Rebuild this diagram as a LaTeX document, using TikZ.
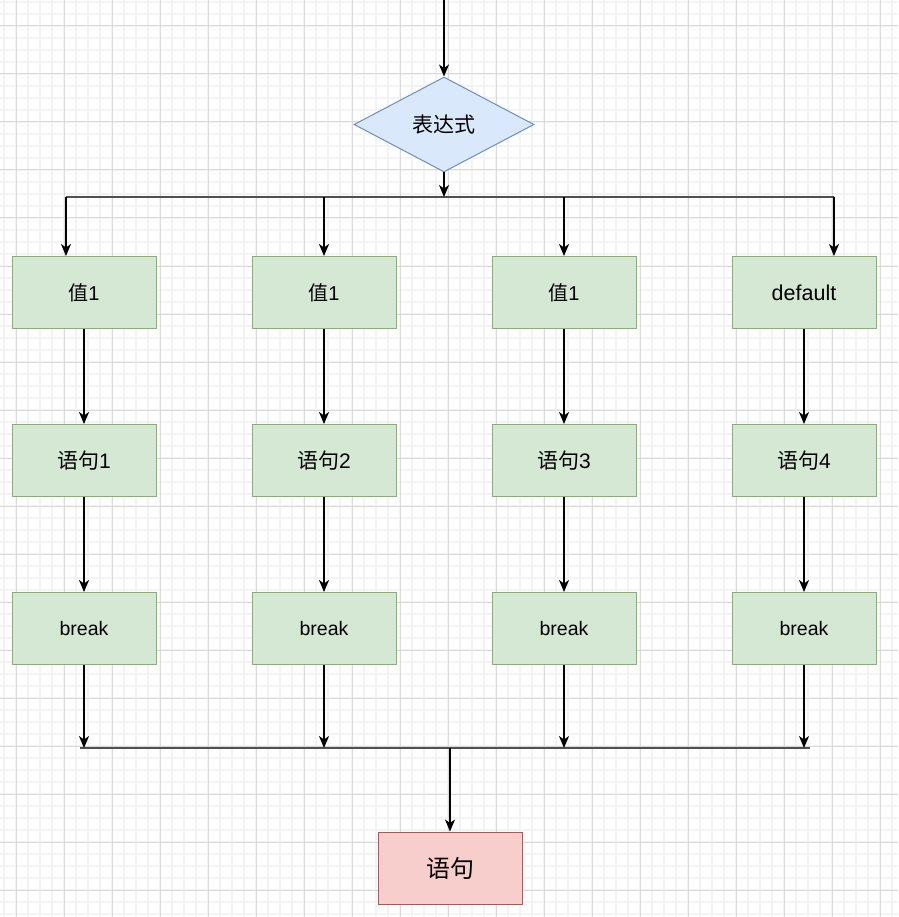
\documentclass[tikz,border=0pt]{standalone}
\usepackage{fontspec}
\setmainfont{Liberation Sans}
\newfontfamily\cjk{Noto Sans CJK SC}
\usetikzlibrary{shapes.geometric,arrows.meta}

\definecolor{gridmajor}{HTML}{DADADA}
\definecolor{gridminor}{HTML}{F3F3F3}
\definecolor{greenfill}{HTML}{D5E8D4}
\definecolor{greenline}{HTML}{82B366}
\definecolor{bluefill}{HTML}{DAE8FC}
\definecolor{blueline}{HTML}{6C8EBF}
\definecolor{redfill}{HTML}{F8CECC}
\definecolor{redline}{HTML}{B85450}
\definecolor{busgray}{HTML}{505050}

\tikzset{
  casebox/.style={rectangle, draw=greenline, fill=greenfill, line width=1pt,
    minimum width=144pt, minimum height=72pt, inner sep=0pt, text=black},
  endbox/.style={rectangle, draw=redline, fill=redfill, line width=1pt,
    minimum width=144pt, minimum height=72pt, inner sep=0pt, text=black},
  decision/.style={diamond, draw=blueline, fill=bluefill, line width=1pt,
    minimum width=180pt, minimum height=95pt, inner sep=0pt, text=black},
  flow/.style={draw=black, line width=1.2pt,
    -{Stealth[length=12pt,width=10pt,inset=3.5pt]}},
  bus/.style={draw=busgray, line width=1.8pt},
  fs/.style={font=\fontsize{#1}{#1}\selectfont},
}

\begin{document}
\begin{tikzpicture}[x=1pt,y=-1pt]
\useasboundingbox (0,0) rectangle (898,917);
\fill[white] (0,0) rectangle (898,917);

% background grid: fine lines every 12, strong lines every 48
\foreach \x in {4,16,...,898} \draw[gridminor,line width=1.5pt] (\x,0) -- (\x,917);
\foreach \y in {2,14,...,917} \draw[gridminor,line width=1.5pt] (0,\y) -- (898,\y);
\foreach \x in {16,64,...,898} \draw[gridmajor,line width=1pt] (\x,0) -- (\x,917);
\foreach \y in {26,74,...,917} \draw[gridmajor,line width=1pt] (0,\y) -- (898,\y);

% decision
\node[decision, fs=21] (expr) at (444,124.5) {\cjk 表达式};

% case values
\node[casebox, fs=20]   (v1) at (84,292.5)  {{\cjk 值}1};
\node[casebox, fs=20]   (v2) at (324,292.5) {{\cjk 值}1};
\node[casebox, fs=20]   (v3) at (564,292.5) {{\cjk 值}1};
\node[casebox, fs=21.5] (v4) at (804,292.5) {default};

% statements
\node[casebox, fs=21] (s1) at (84,460.5)  {{\cjk 语句}1};
\node[casebox, fs=21] (s2) at (324,460.5) {{\cjk 语句}2};
\node[casebox, fs=21] (s3) at (564,460.5) {{\cjk 语句}3};
\node[casebox, fs=21] (s4) at (804,460.5) {{\cjk 语句}4};

% breaks
\node[casebox, fs=19.5] (b1) at (84,628.5)  {break};
\node[casebox, fs=19.5] (b2) at (324,628.5) {break};
\node[casebox, fs=19.5] (b3) at (564,628.5) {break};
\node[casebox, fs=19.5] (b4) at (804,628.5) {break};

% following statement
\node[endbox, fs=24] (out) at (450,868) {\cjk 语句};

% junction points
\coordinate (entry) at (444,0);
\coordinate (split) at (444,197);
\coordinate (t1) at (66,197);
\coordinate (t2) at (324,197);
\coordinate (t3) at (564,197);
\coordinate (t4) at (834,197);
\coordinate (m1) at (84,748);
\coordinate (m2) at (324,748);
\coordinate (m3) at (564,748);
\coordinate (m4) at (804,748);
\coordinate (mL) at (80,748);
\coordinate (mR) at (810,748);
\coordinate (merge) at (450,748);

% buses
\draw[bus] (t1) -- (t4);
\draw[bus] (mL) -- (mR);

% entry and split
\draw[flow] (entry) -- (expr.north);
\draw[flow] (expr.south) -- (split);
\draw[flow] (t1) -- (t1 |- v1.north);
\draw[flow] (t2) -- (v2.north);
\draw[flow] (t3) -- (v3.north);
\draw[flow] (t4) -- (t4 |- v4.north);

% columns
\foreach \i in {1,2,3,4} {
  \draw[flow] (v\i.south) -- (s\i.north);
  \draw[flow] (s\i.south) -- (b\i.north);
  \draw[flow] (b\i.south) -- (m\i);
}

% merge
\draw[flow] (merge) -- (out.north);
\end{tikzpicture}
\end{document}
